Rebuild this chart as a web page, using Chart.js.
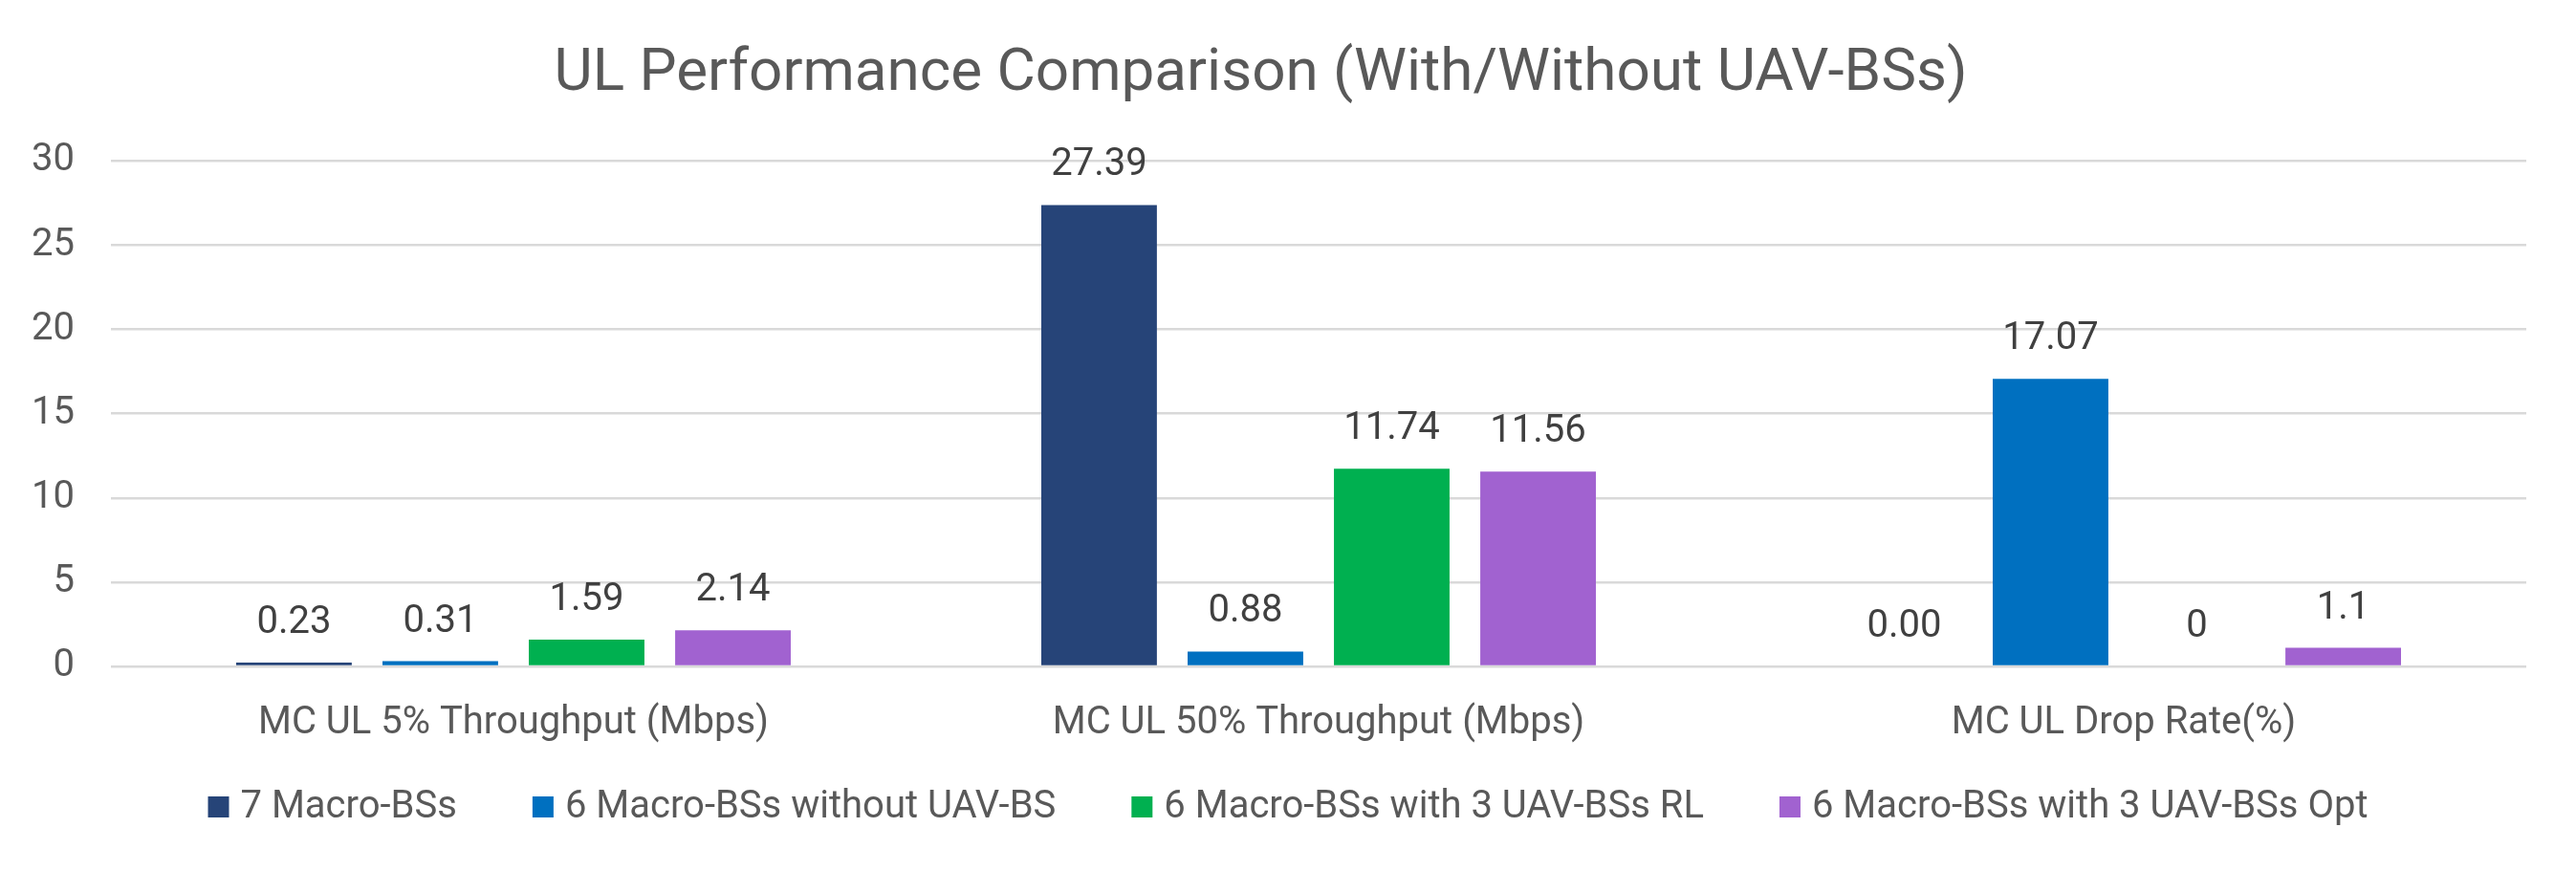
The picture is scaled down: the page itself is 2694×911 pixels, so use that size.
<!DOCTYPE html>
<html>
<head>
<meta charset="utf-8">
<title>UL Performance Comparison</title>
<script src="https://cdn.jsdelivr.net/npm/chart.js@4.4.1/dist/chart.umd.min.js"></script>
<style>
  html, body { margin: 0; padding: 0; background: #ffffff; }
  canvas { display: block; }
</style>
</head>
<body>
<canvas id="ul-chart" width="2694" height="911"></canvas>
<script>
// values
const categories = ['MC UL 5% Throughput (Mbps)', 'MC UL 50% Throughput (Mbps)', 'MC UL Drop Rate(%)'];
const seriesNames = ['7 Macro-BSs', '6 Macro-BSs without UAV-BS', '6 Macro-BSs with 3 UAV-BSs RL', '6 Macro-BSs with 3 UAV-BSs Opt'];
const macro7 = [0.23, 27.39, 0];
const macro6NoUav = [0.31, 0.88, 17.07];
const macro6UavRL = [1.59, 11.74, 0];
const macro6UavOpt = [2.14, 11.56, 1.1];
// value labels exactly as printed on the chart
const macro7Labels = ['0.23', '27.39', '0.00'];
const macro6NoUavLabels = ['0.31', '0.88', '17.07'];
const macro6UavRLLabels = ['1.59', '11.74', '0'];
const macro6UavOptLabels = ['2.14', '11.56', '1.1'];
const yMin = 0, yMax = 30, yStep = 5;

const FONT = 'Roboto, "Open Sans", sans-serif';

// draws the printed value above every bar
const valueLabels = {
    id: 'valueLabels',
    afterDatasetsDraw(chart) {
        const ctx = chart.ctx;
        ctx.save();
        ctx.font = '40px ' + FONT;
        ctx.fillStyle = '#404040';
        ctx.textAlign = 'center';
        ctx.textBaseline = 'alphabetic';
        chart.data.datasets.forEach((ds, i) => {
            chart.getDatasetMeta(i).data.forEach((bar, j) => {
                ctx.fillText(ds.valueLabels[j], bar.x, bar.y - 31);
            });
        });
        ctx.restore();
    }
};

// legend row under the axis, spaced like the original
const bottomLegend = {
    id: 'bottomLegend',
    afterDraw(chart) {
        const ctx = chart.ctx;
        const box = 22, textGap = 12, itemGap = 79, cy = 844;
        ctx.save();
        ctx.font = '40px ' + FONT;
        const items = chart.data.datasets.map(ds => ({
            text: ds.label, color: ds.backgroundColor, w: ctx.measureText(ds.label).width
        }));
        let total = items.reduce((s, it) => s + box + textGap + it.w, 0) + itemGap * (items.length - 1);
        let x = (chart.width - total) / 2;
        ctx.textBaseline = 'middle';
        ctx.textAlign = 'left';
        items.forEach(it => {
            ctx.fillStyle = it.color;
            ctx.fillRect(x, cy - box / 2, box, box);
            ctx.fillStyle = '#595959';
            ctx.fillText(it.text, x + box + textGap, cy + 1);
            x += box + textGap + it.w + itemGap;
        });
        ctx.restore();
    }
};

const ctx = document.getElementById('ul-chart').getContext('2d');
const chart = new Chart(ctx, {
    type: 'bar',
    data: {
        labels: categories,
        datasets: [
            { label: seriesNames[0], data: macro7, valueLabels: macro7Labels, backgroundColor: '#264478' },
            { label: seriesNames[1], data: macro6NoUav, valueLabels: macro6NoUavLabels, backgroundColor: '#0070c0' },
            { label: seriesNames[2], data: macro6UavRL, valueLabels: macro6UavRLLabels, backgroundColor: '#00b050' },
            { label: seriesNames[3], data: macro6UavOpt, valueLabels: macro6UavOptLabels, backgroundColor: '#a162d0' }
        ]
    },
    options: {
        responsive: false,
        devicePixelRatio: 1,
        animation: false,
        categoryPercentage: 0.727,
        barPercentage: 0.79,
        layout: {
            padding: { left: -5, right: 52, top: 0, bottom: 102 }
        },
        plugins: {
            legend: { display: false },
            tooltip: { enabled: false },
            title: {
                display: true,
                text: 'UL Performance Comparison (With/Without UAV-BSs)',
                color: '#595959',
                font: { family: FONT, size: 62, weight: 'normal', lineHeight: 1.2 },
                padding: { top: 41, bottom: 53 }
            }
        },
        scales: {
            x: {
                grid: { display: false },
                border: { display: false },
                ticks: {
                    color: '#595959',
                    font: { family: FONT, size: 40, lineHeight: 1.2 },
                    padding: 28,
                    maxRotation: 0
                }
            },
            y: {
                min: yMin,
                max: yMax,
                grid: { color: '#d9d9d9', lineWidth: 2.5, drawTicks: false },
                border: { display: false },
                ticks: {
                    stepSize: yStep,
                    color: '#595959',
                    font: { family: FONT, size: 40, lineHeight: 1.2 },
                    padding: 38
                }
            }
        }
    },
    plugins: [valueLabels, bottomLegend]
});
</script>
</body>
</html>
